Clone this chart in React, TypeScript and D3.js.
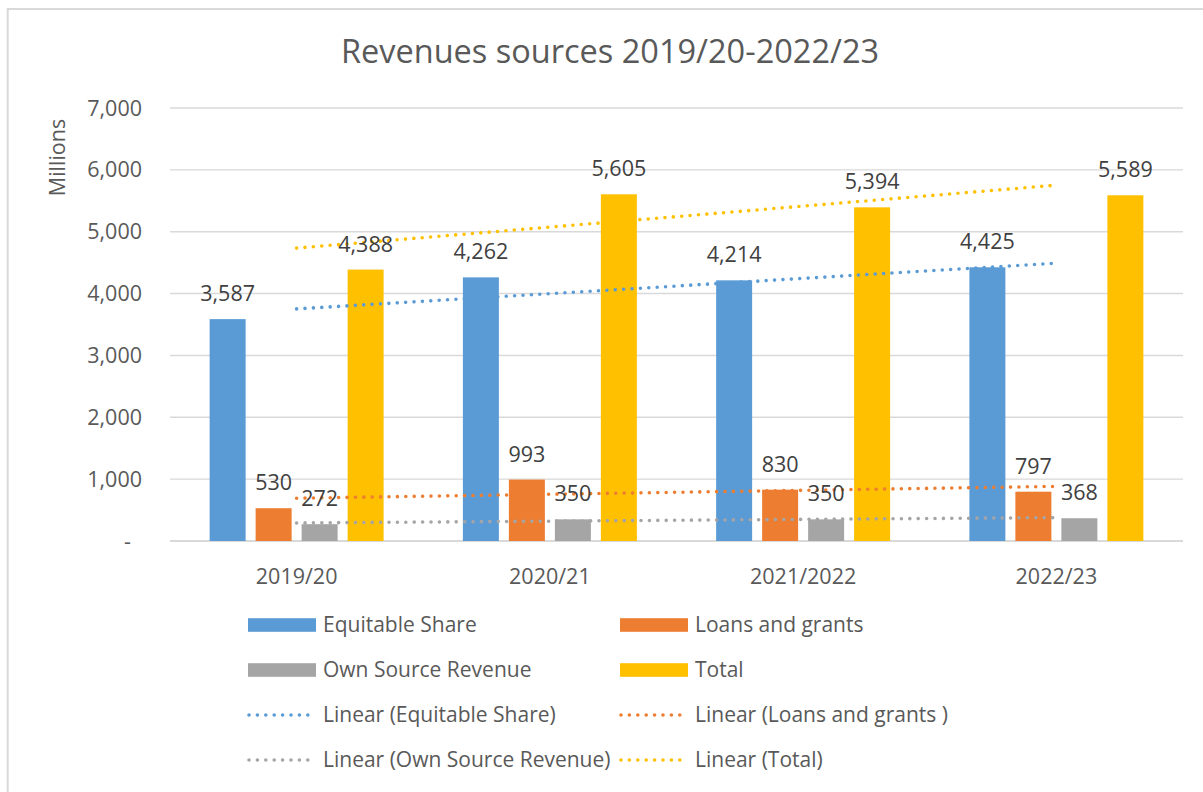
import React from "react";
import * as d3 from "d3";

const categories = ["2019/20", "2020/21", "2021/2022", "2022/23"];
const seriesNames = ["Equitable Share", "Loans and grants", "Own Source Revenue", "Total"];
const trendNames = [
  "Linear (Equitable Share)",
  "Linear (Loans and grants )",
  "Linear (Own Source Revenue)",
  "Linear (Total)",
];
const equitableShare = [3587, 4262, 4214, 4425];
const loansAndGrants = [530, 993, 830, 797];
const ownSourceRevenue = [272, 350, 350, 368];
const total = [4388, 5605, 5394, 5589];
const yTicks = [0, 1000, 2000, 3000, 4000, 5000, 6000, 7000];
const colors = ["#5B9BD5", "#ED7D31", "#A5A5A5", "#FFC000"];

const seriesValues = [equitableShare, loansAndGrants, ownSourceRevenue, total];

const W = 1203;
const H = 792;
const plot = { left: 170, right: 1183, top: 108, bottom: 541 };
const FONT = "'Open Sans', sans-serif";

function regression(vals: number[]) {
  const xs = vals.map((_, i) => i + 1);
  const mx = d3.mean(xs) as number;
  const my = d3.mean(vals) as number;
  let num = 0;
  let den = 0;
  xs.forEach((x, i) => {
    num += (x - mx) * (vals[i] - my);
    den += (x - mx) * (x - mx);
  });
  const slope = num / den;
  const intercept = my - slope * mx;
  return (x: number) => intercept + slope * x;
}

export default function App() {
  const y = d3.scaleLinear().domain([0, 7000]).range([plot.bottom, plot.top]);
  const x0 = d3.scaleBand<string>().domain(categories).range([plot.left, plot.right]).padding(0);
  const groupW = x0.bandwidth() * 0.687;
  const x1 = d3
    .scaleBand<string>()
    .domain(seriesNames)
    .range([0, groupW])
    .paddingInner(10 / 46)
    .paddingOuter(0);
  const groupStart = (c: string) => (x0(c) as number) + (x0.bandwidth() - groupW) / 2;
  const center = (c: string) => (x0(c) as number) + x0.bandwidth() / 2;
  const fmt = d3.format(",");

  const legendRows = [
    { name: seriesNames[0], color: colors[0], kind: "rect", col: 0, row: 0 },
    { name: seriesNames[1], color: colors[1], kind: "rect", col: 1, row: 0 },
    { name: seriesNames[2], color: colors[2], kind: "rect", col: 0, row: 1 },
    { name: seriesNames[3], color: colors[3], kind: "rect", col: 1, row: 1 },
    { name: trendNames[0], color: colors[0], kind: "line", col: 0, row: 2 },
    { name: trendNames[1], color: colors[1], kind: "line", col: 1, row: 2 },
    { name: trendNames[2], color: colors[2], kind: "line", col: 0, row: 3 },
    { name: trendNames[3], color: colors[3], kind: "line", col: 1, row: 3 },
  ];
  const legX = [248, 620];
  const legY = (r: number) => 625 + r * 45;

  return (
    <svg
      width={W}
      height={H}
      style={{ position: "absolute", left: 0, top: 0, background: "#fff" }}
      fontFamily={FONT}
    >
      <rect x={0} y={0} width={W} height={H} fill="#fff" />
      <rect x={7.7} y={9} width={W + 20} height={H + 20} fill="#fff" stroke="#D9D9D9" strokeWidth={2} />

      <text x={610} y={63} textAnchor="middle" fontSize={32.5} fill="#595959">
        Revenues sources 2019/20-2022/23
      </text>

      <text
        transform={`translate(${65},${157.5}) rotate(-90)`}
        textAnchor="middle"
        fontSize={21.5}
        fill="#595959"
      >
        Millions
      </text>

      {yTicks.map((t) => (
        <g key={t}>
          <line
            x1={plot.left}
            x2={plot.right}
            y1={y(t)}
            y2={y(t)}
            stroke="#D9D9D9"
            strokeWidth={t === 0 ? 1.8 : 1.4}
          />
          <text
            x={t === 0 ? 131 : 142}
            y={y(t)}
            dy="0.35em"
            textAnchor="end"
            fontSize={21.5}
            fill="#595959"
          >
            {t === 0 ? "-" : fmt(t)}
          </text>
        </g>
      ))}

      {categories.map((c) => (
        <text key={c} x={center(c)} y={584} textAnchor="middle" fontSize={21.5} fill="#595959">
          {c}
        </text>
      ))}

      {categories.map((c, ci) =>
        seriesNames.map((s, si) => {
          const v = seriesValues[si][ci];
          return (
            <rect
              key={c + s}
              x={groupStart(c) + (x1(s) as number)}
              y={y(v)}
              width={x1.bandwidth()}
              height={y(0) - y(v)}
              fill={colors[si]}
            />
          );
        })
      )}

      {seriesValues.map((vals, si) => {
        const f = regression(vals);
        const path = d3
          .line<number>()
          .x((d) => center(categories[d - 1]))
          .y((d) => y(f(d)))([1, categories.length]);
        return (
          <path
            key={si}
            d={path as string}
            fill="none"
            stroke={colors[si]}
            strokeWidth={3.6}
            strokeLinecap="round"
            strokeDasharray="0 8.4"
          />
        );
      })}

      {categories.map((c, ci) =>
        seriesNames.map((s, si) => {
          const v = seriesValues[si][ci];
          return (
            <text
              key={"l" + c + s}
              x={groupStart(c) + (x1(s) as number) + x1.bandwidth() / 2}
              y={y(v) - 18}
              textAnchor="middle"
              fontSize={21.5}
              fill="#404040"
            >
              {fmt(v)}
            </text>
          );
        })
      )}

      {legendRows.map((l) => {
        const lx = legX[l.col];
        const ly = legY(l.row);
        return (
          <g key={l.name}>
            {l.kind === "rect" ? (
              <rect x={lx} y={ly - 6.8} width={68} height={13.6} fill={l.color} />
            ) : (
              <line
                x1={lx + 1}
                x2={lx + 68}
                y1={ly}
                y2={ly}
                stroke={l.color}
                strokeWidth={3.6}
                strokeLinecap="round"
                strokeDasharray="0 8.4"
              />
            )}
            <text x={lx + 75} y={ly} dy="0.35em" fontSize={21} fill="#595959">
              {l.name}
            </text>
          </g>
        );
      })}
    </svg>
  );
}
